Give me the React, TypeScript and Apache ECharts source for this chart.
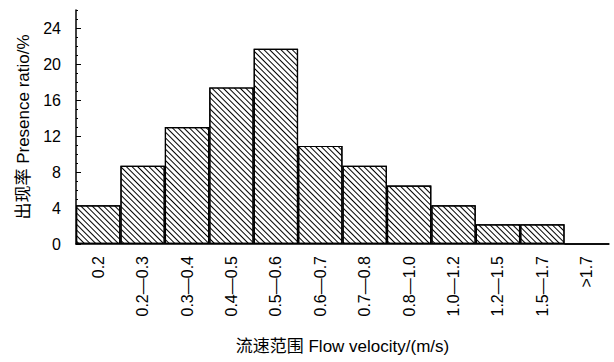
import React, { useEffect, useRef } from "react";
import * as echarts from "echarts";

const categories = ["0.2", "0.2—0.3", "0.3—0.4", "0.4—0.5", "0.5—0.6", "0.6—0.7", "0.7—0.8", "0.8—1.0", "1.0—1.2", "1.2—1.5", "1.5—1.7", ">1.7"];
const ratios = [4.3, 8.7, 13.0, 17.4, 21.7, 10.9, 8.7, 6.5, 4.3, 2.2, 2.2, 0];
const yTicks = [0, 4, 8, 12, 16, 20, 24];

const FONT = "'Liberation Sans', Arial, 'Noto Sans CJK SC', sans-serif";

export default function App() {
  const ref = useRef<HTMLDivElement>(null);
  useEffect(() => {
    if (!ref.current) return;
    const chart = echarts.init(ref.current, null, { renderer: "svg" });
    chart.setOption({
      animation: false,
      backgroundColor: "#fff",
      grid: { left: 76, right: 5, top: 10, bottom: 118, outerBoundsMode: "none", containLabel: false },
      xAxis: {
        type: "category",
        data: categories,
        axisLine: { lineStyle: { color: "#000", width: 1.5 } },
        axisTick: { show: false },
        axisLabel: { rotate: 90, color: "#000", fontSize: 16, fontFamily: FONT, margin: 12, interval: 0 },
        name: "流速范围 Flow velocity/(m/s)",
        nameLocation: "middle",
        nameGap: 94,
        nameTextStyle: { color: "#000", fontSize: 17, fontFamily: FONT },
      },
      yAxis: [
        {
          type: "value",
          min: 0,
          max: 26,
          interval: 4,
          axisLine: { show: true, lineStyle: { color: "#000", width: 1.5 } },
          axisTick: { show: true, inside: true, length: 5, customValues: yTicks, lineStyle: { color: "#000" } },
          axisLabel: { color: "#000", fontSize: 16, fontFamily: FONT, margin: 15, customValues: yTicks },
          splitLine: { show: false },
          name: "出现率 Presence ratio/%",
          nameLocation: "middle",
          nameGap: 43,
          nameTextStyle: { color: "#000", fontSize: 17, fontFamily: FONT },
        },
        {
          type: "value",
          min: 0,
          max: 26,
          interval: 1,
          position: "left",
          axisLine: { show: false },
          axisTick: { show: true, inside: true, length: 2, lineStyle: { color: "#000" } },
          axisLabel: { show: false },
          splitLine: { show: false },
        },
      ],
      series: [
        {
          type: "bar",
          data: ratios,
          barCategoryGap: 0,
          yAxisIndex: 0,
          itemStyle: {
            color: "#fff",
            borderColor: "#000",
            borderWidth: 1.2,
            decal: {
              symbol: "rect",
              symbolSize: 1,
              color: "#000",
              backgroundColor: "#fff",
              dashArrayX: [1, 0],
              dashArrayY: [1, 3],
              rotation: Math.PI / 4,
            },
          },
        },
      ],
    });
    return () => chart.dispose();
  }, []);
  return <div ref={ref} style={{ width: 614, height: 362, position: "absolute", left: 0, top: 0 }} />;
}
